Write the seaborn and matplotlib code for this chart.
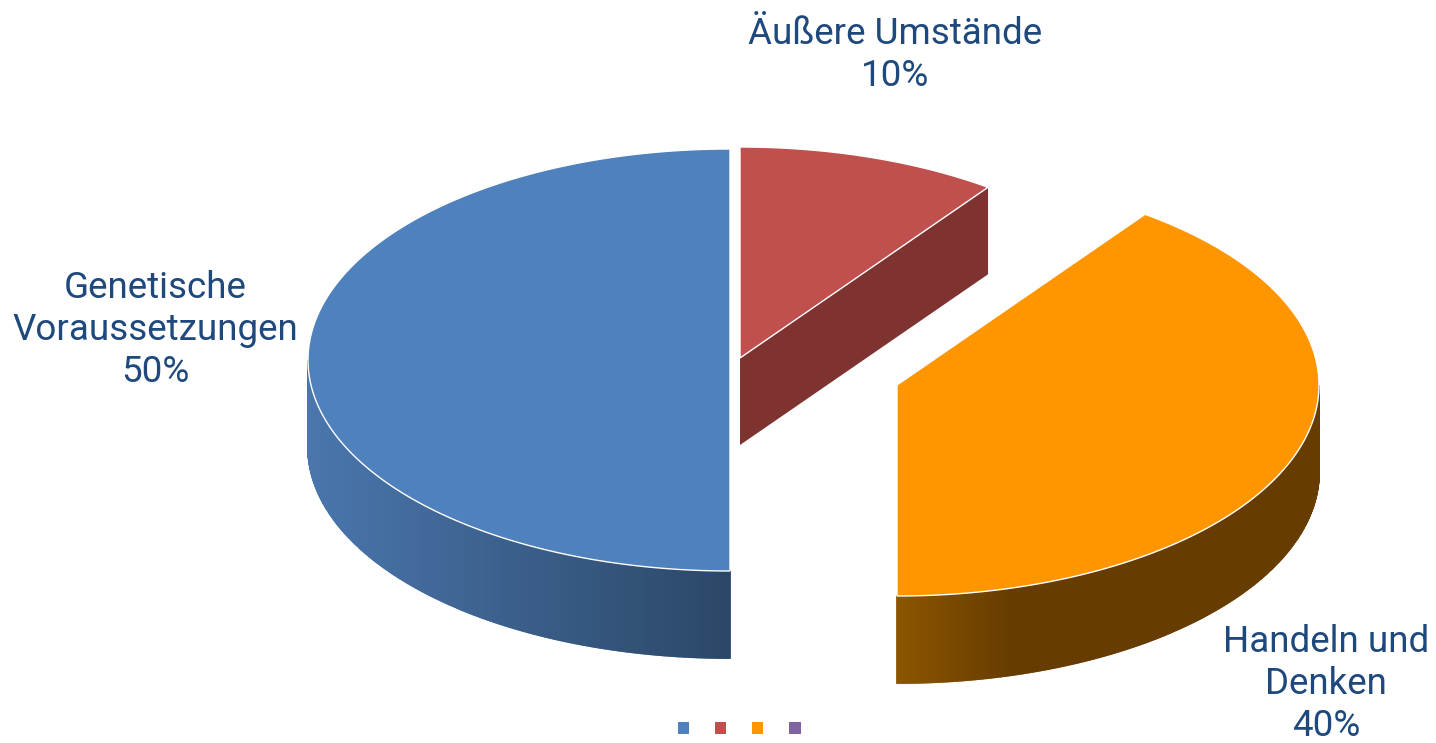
import numpy as np
import pandas as pd
import matplotlib
matplotlib.use("Agg")
import matplotlib.pyplot as plt
import seaborn as sns

categories = ["Genetische\nVoraussetzungen", "Äußere Umstände", "Handeln und\nDenken", "Sonstige"]
values = [50, 10, 40, 0]
top_colors = ["#4F81BD", "#C0504D", "#FF9600", "#8064A2"]
side_left = ["#4A76AD", "#7F3331", "#8C5600", "#8064A2"]
side_right = ["#2B4767", "#7F3331", "#663C00", "#8064A2"]
label_color = "#1F497D"

sns.set_theme(style="white")
plt.rcParams["font.family"] = ["Roboto", "DejaVu Sans"]

fig = plt.figure(figsize=(14.36, 7.43), dpi=100)
ax = fig.add_axes([0, 0, 1, 1])
ax.set_xlim(0, 1436)
ax.set_ylim(743, 0)
ax.axis("off")

RX, RY, DEPTH = 422, 211, 87
apexes = [(730, 360), (740, 358), (897, 385)]
label_pos = [(155, 330), (895, 55), (1326, 684)]


def rim(a0, a1, n=200):
    t = np.radians(np.linspace(a0, a1, n))
    return RX * np.sin(t), -RY * np.cos(t)


def mix(c0, c1, f):
    c0 = np.array(matplotlib.colors.to_rgb(c0))
    c1 = np.array(matplotlib.colors.to_rgb(c1))
    return tuple(c0 + (c1 - c0) * f)


order = [0, 1, 2]
starts = {0: 180.0, 1: 0.0, 2: 36.0}
total = sum(values)
for i in order:
    a0 = starts[i]
    a1 = a0 + 360.0 * values[i] / total
    cx, cy = apexes[i]
    # visible outer wall (front half of the rim)
    lo, hi = max(a0, 90), min(a1, 270)
    if hi > lo:
        xs, ys = rim(lo, hi, 260)
        xs, ys = xs + cx, ys + cy
        left, right = xs.min(), xs.max()
        for k in range(len(xs) - 1):
            f = ((xs[k] + xs[k + 1]) / 2 - left) / (right - left)
            if i == 2:
                f = min(1, f / 0.27)
            ax.fill([xs[k], xs[k + 1], xs[k + 1], xs[k]],
                    [ys[k], ys[k + 1], ys[k + 1] + DEPTH, ys[k] + DEPTH],
                    color=mix(side_left[i], side_right[i], f), lw=1.3, zorder=2)
    # visible cut wall of the red slice
    if i == 1:
        ex, ey = rim(a1, a1, 1)
        ax.fill([cx, cx + ex[0], cx + ex[0], cx],
                [cy, cy + ey[0], cy + ey[0] + DEPTH, cy + DEPTH],
                color=side_left[i], lw=0, zorder=2)
    # top face
    xs, ys = rim(a0, a1)
    ax.fill(np.r_[cx, xs + cx], np.r_[cy, ys + cy], facecolor=top_colors[i],
            edgecolor="white", lw=1.0, zorder=3)
    pct = f"{values[i]}%"
    ax.text(*label_pos[i], f"{categories[i]}\n{pct}", color=label_color, fontsize=26.5,
            ha="center", va="center", linespacing=1.22, zorder=5)

legend_df = pd.DataFrame({"x": [683.5, 720.5, 757.5, 795], "y": [728] * 4, "cat": categories})
sns.scatterplot(data=legend_df, x="x", y="y", hue="cat", palette=top_colors, marker="s",
                s=65, linewidth=0, legend=False, ax=ax, zorder=5)
ax.set_xlim(0, 1436)
ax.set_ylim(743, 0)
ax.axis("off")
fig.savefig("out.png", dpi=100, facecolor="white")
